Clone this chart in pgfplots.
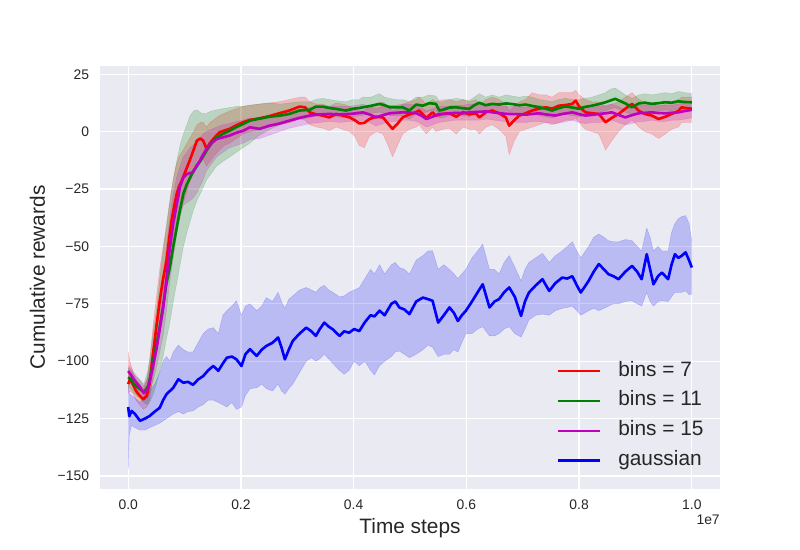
\documentclass[border=0pt]{standalone}
\usepackage{pgfplots}
\pgfplotsset{compat=1.18}
\usepackage{pgfplotstable}
\usepgfplotslibrary{fillbetween}
\usepackage{fontspec}
\setmainfont{Liberation Sans}
\definecolor{bg}{HTML}{EAEAF2}
\definecolor{txt}{HTML}{262626}
\definecolor{mpurple}{rgb}{0.75,0,0.75}
\definecolor{mgreen}{rgb}{0,0.5,0}

\pgfplotstableread{
x m lo hi
0.000 -110 -114 -96
0.003 -108 -113 -100
0.008 -110 -114 -104
0.014 -113 -117 -108
0.020 -115 -119 -110
0.027 -116.6 -121 -112
0.033 -115 -120 -108
0.038 -110 -117 -100
0.044 -97 -107 -85
0.050 -85 -97 -72
0.056 -73.7 -86 -60
0.062 -64 -77 -50
0.068 -56.3 -69 -42
0.073 -46 -60 -32
0.077 -38.8 -52 -25
0.082 -32 -46 -18
0.086 -27.2 -41 -14
0.090 -24 -37 -11
0.095 -21.4 -33 -9
0.102 -17 -28 -6
0.109 -12.7 -22 -3
0.116 -8 -17 0
0.122 -3.9 -12 3
0.128 -3 -11 4
0.133 -3.9 -12 4
0.139 -7.4 -15 2
0.145 -5 -13 4
0.151 -3.2 -11 5
0.162 -0.3 -8 7
0.171 0.5 -6 8
0.180 1.2 -5 9
0.192 2.8 -3 10
0.204 4.1 -1 11
0.216 5.1 0 11.5
0.233 5.8 1 12
0.251 6.8 2 12.5
0.268 8 3 13
0.286 9.2 4 14
0.304 10.9 5.5 15
0.314 10.6 5 15
0.322 8.4 3 13
0.334 7.5 2 12
0.345 7.0 1.5 12
0.357 6.2 0.5 11
0.369 7.7 2 12.5
0.381 7 1 12
0.393 6.2 0 11
0.402 5 -2 10
0.410 3.6 -6 9
0.419 3.8 -7 9
0.428 5.5 -2 11
0.440 6.5 0 12
0.452 6.2 -1 13
0.461 3.5 -6 11
0.469 1.2 -11 9
0.478 3.5 -6 10
0.487 6.2 -1 12
0.499 7.5 1 13
0.511 8.5 2 14
0.516 9.2 3 15
0.529 6 -1 12
0.540 8.4 2 14
0.546 7.0 0 13
0.558 7.7 1 14
0.570 8.0 1.5 14
0.582 6.5 -1 13
0.594 8.5 2 14
0.605 7.5 1 13
0.617 8 1 14
0.623 6.2 -1 12
0.635 8.5 2 14
0.646 9.2 3 15
0.658 8 1 14
0.670 6.2 -2 12
0.676 2.6 -10 9
0.685 5 -4 11
0.694 7.0 0 13
0.705 8 1 14
0.717 9.2 2 17
0.729 10 3 16
0.741 10.6 4 16
0.752 10 3 15
0.764 11.3 4 17
0.776 11.6 5 17
0.788 12.1 5 17
0.794 13.5 6 18
0.800 11 4 16
0.811 8.4 1 14
0.823 8 0 13
0.835 7.7 -1 13
0.847 4.1 -8 11
0.858 6 -4 12
0.870 7.7 0 13
0.882 10 3 15
0.894 12.1 5 17
0.906 9 2 14
0.917 7.7 0 13
0.929 7 -1 12
0.941 5.5 -3 11
0.953 6.5 -1 12
0.964 7.7 1 13
0.976 9 2 14
0.982 10.6 4 15
0.991 10.2 4 15
1.000 10.0 4 15
}\tabR

\pgfplotstableread{
x m lo hi
0.000 -107 -111 -103
0.005 -108 -112 -104
0.010 -110 -114 -106
0.020 -112 -116 -108
0.028 -113.5 -118 -110
0.035 -111 -119 -104
0.040 -106 -117 -96
0.045 -99 -114 -86
0.050 -93 -110 -78
0.056 -85 -104 -64
0.062 -76 -98 -52
0.068 -66 -90 -40
0.074 -59 -83 -30
0.080 -50 -74 -21
0.086 -42 -66 -13
0.092 -34 -58 -6
0.098 -27 -50 -1
0.104 -23 -44 3
0.110 -20 -39 7
0.116 -17 -34 9
0.122 -15 -30 9.5
0.130 -12 -26 8
0.139 -8.3 -21 8
0.148 -5 -18 9
0.157 -2.5 -15 9.5
0.168 -1 -13 10
0.180 0.4 -11 10.5
0.192 2 -9 11
0.204 3.3 -7 11
0.216 4.8 -5 11.5
0.230 5.5 -2 12
0.251 6.5 1 12.5
0.270 7 3 12
0.286 7.7 4 12.5
0.304 9.2 5.5 13
0.322 9.5 6 13
0.333 10.9 7 14
0.345 10.9 7.5 14.5
0.357 10.3 7 14
0.369 9.9 6.5 13.5
0.386 9.2 6 13
0.400 10 6.5 14
0.410 10.3 7 14
0.416 10.6 7 15
0.430 11.2 8 15
0.446 12.1 8.5 16.5
0.455 11.5 8 15
0.464 10.6 7 14.5
0.475 10.6 7 14
0.487 10.6 7 14
0.499 9.2 5.5 13
0.511 11.8 8 15
0.523 11.3 8 15
0.534 12.4 9 16
0.546 12.1 9 15.5
0.552 9.2 6 13
0.558 9.5 6 13
0.570 10.5 7 14
0.582 10.6 7.5 14.5
0.594 10.2 7 14
0.605 9.9 6.5 13.5
0.614 11.5 8 15
0.623 12.6 9 16.5
0.634 11.5 8 15
0.646 12.1 8.5 16
0.658 11.8 8 15
0.670 12.3 9 16
0.682 12 8.5 15.5
0.694 11.5 8 15
0.705 11.8 8.5 15.5
0.717 11.2 8 15
0.729 10.6 7 14
0.741 10 6.5 13.5
0.752 9.2 6 13
0.764 10.2 7 14
0.776 11 7.5 14.5
0.788 10.5 7 14
0.800 10 6.5 14
0.811 10.8 7 14.5
0.823 11.3 8 15
0.835 12 8.5 16
0.847 12.8 9 17
0.856 13.6 10 18.5
0.864 14.3 10.5 19
0.873 13.3 9.5 17.5
0.882 12.3 8.5 16
0.894 10.6 7 14.5
0.906 12.3 8.5 16
0.917 12.6 9 16.5
0.929 12.1 8.5 16
0.941 12.4 9 16.5
0.953 12.8 9.5 17
0.964 12.6 9 16.5
0.976 13.2 10 17.5
0.988 12.9 9.5 17
1.000 12.8 9.5 16.5
}\tabG

\pgfplotstableread{
x m lo hi
0.000 -104.3 -107 -102
0.005 -106 -109 -103
0.010 -108 -111 -105
0.020 -111 -114 -108
0.028 -114 -117 -111
0.035 -112 -116 -107
0.040 -107 -112 -100
0.045 -101 -108 -93
0.050 -95 -103 -85
0.056 -86 -96 -74
0.062 -77 -89 -63
0.068 -64 -78 -50
0.074 -50.5 -65 -37
0.080 -40 -55 -27
0.086 -32 -45 -20
0.092 -24 -37 -15
0.098 -20 -32 -11
0.104 -18.5 -31 -9
0.110 -18 -30 -7
0.115 -17.8 -29 -6
0.121 -15 -27 -4
0.127 -12.7 -24 -3
0.133 -10 -21 -1
0.139 -7.5 -17 0
0.148 -5 -14 1
0.157 -3.2 -11 2
0.168 -2.5 -9 3
0.180 -1.7 -7 3.5
0.192 -0.5 -6 4.5
0.204 0.4 -5 5
0.216 1.9 -3.5 6
0.233 1.2 -3 5.5
0.251 2.6 -1.5 6.5
0.268 3.5 0 7.5
0.286 4.8 1.5 8.5
0.304 6 2.5 9.5
0.322 7 3.5 10.5
0.340 7.5 4 11
0.357 7.7 4.5 11
0.375 7.5 4 11
0.393 7.7 4.5 11
0.405 8 4.5 11.5
0.416 8.4 5 12
0.428 7.5 4 11
0.440 6.2 2.5 10
0.452 7.2 3.5 11
0.464 8.0 4.5 11.5
0.475 8.2 4.5 11.5
0.487 8.4 5 12
0.499 8.3 5 12
0.511 8.0 4.5 11.5
0.520 7 3.5 10.5
0.529 5.5 2 9
0.540 6.5 3 10
0.552 7.7 4 11
0.565 7.8 4.5 11
0.580 8.2 5 11.5
0.594 8.0 5 11.5
0.605 8.4 5 12
0.620 8.6 5 12
0.635 8.8 5.5 12
0.650 8.3 5 11.5
0.664 7.9 4.5 11
0.676 7.7 4.5 11
0.690 7.6 4 11
0.705 7.4 4 10.5
0.717 7.7 4.5 11
0.729 8.0 4.5 11.5
0.741 7.5 4 11
0.758 7.0 3.5 10.5
0.770 7.7 4 11
0.788 8.4 5 12
0.800 7.6 4 11
0.811 7.0 3.5 10.5
0.823 7.3 4 10.5
0.835 7.7 4 11
0.847 8.0 4.5 11.5
0.858 8.4 5 12
0.870 7.3 4 11
0.882 6.2 3 9.5
0.894 7.2 3.5 10.5
0.906 8.0 4.5 11.5
0.917 8.2 4.5 11.5
0.929 8.4 5 12
0.941 8.1 4.5 11.5
0.953 8.0 4.5 11.5
0.964 8.2 5 11.5
0.976 8.4 5 12
0.988 9.0 5.5 12.5
1.000 9.5 6 13
}\tabM

\pgfplotstableread{
x m lo hi
0.000 -120 -147 -110
0.002 -124 -132 -114
0.006 -121.7 -128 -115
0.012 -123 -129 -116
0.021 -126 -130 -118
0.030 -125 -130 -115
0.038 -123.9 -129 -113
0.047 -122 -128 -110
0.056 -120.3 -127 -105
0.062 -117 -126 -100
0.068 -114.4 -125 -98
0.074 -113 -124 -100
0.080 -111.6 -123 -96
0.089 -107.9 -122 -93
0.098 -109.4 -123 -95
0.106 -109 -122 -96
0.115 -110.3 -121.7 -96
0.124 -108 -120 -92
0.133 -106.5 -119 -88
0.142 -104 -117 -86
0.151 -102.1 -117 -85.4
0.160 -104.2 -118 -88
0.168 -101 -119 -80
0.175 -98.5 -120 -78
0.184 -98 -118 -76
0.192 -99.2 -121 -73.7
0.201 -102.1 -120 -80
0.208 -97 -115 -76
0.216 -94.8 -112 -75
0.228 -97.7 -111.6 -78
0.237 -95 -110 -76
0.245 -93.4 -112 -72.3
0.256 -92 -113 -74
0.266 -89.7 -110 -70
0.272 -94 -113 -74
0.278 -99.2 -114.4 -77
0.285 -95 -112 -73
0.292 -91.2 -110 -71.6
0.304 -88 -105 -69
0.316 -85.4 -100 -67.9
0.325 -87 -98.5 -69
0.333 -89.0 -100 -70
0.340 -86 -99 -68
0.348 -83.2 -97 -67
0.356 -85 -99 -69
0.363 -86.1 -101 -70
0.375 -89.0 -104 -72
0.383 -87 -105.7 -71.6
0.392 -87.6 -104 -70
0.401 -86 -100 -69
0.410 -86.9 -102 -68
0.420 -83 -100 -64
0.430 -80 -104 -60
0.437 -80.5 -106 -62
0.446 -78 -102 -58
0.455 -80 -100 -62
0.467 -75 -98 -58
0.474 -74 -96 -57
0.481 -76.6 -95.6 -59.2
0.490 -77.5 -97 -60
0.499 -79.5 -98.5 -62
0.511 -74 -97 -56
0.523 -72.3 -95 -54
0.532 -73 -93 -52
0.540 -73.7 -94 -51.9
0.550 -83.2 -98 -60
0.560 -80 -97 -58
0.570 -76.6 -97 -60
0.578 -79 -95 -62
0.585 -82.5 -96 -64
0.592 -80 -92 -62
0.599 -78.1 -88 -60
0.610 -74 -88 -55
0.620 -70 -86 -52
0.629 -66.5 -85 -49
0.641 -76.6 -89 -60
0.650 -74 -89 -60
0.658 -73.0 -88 -62
0.667 -70 -86 -57
0.676 -67.9 -85 -54
0.686 -72 -88 -59
0.697 -80.3 -89.5 -65
0.704 -74 -86 -60
0.711 -70.1 -82 -57
0.723 -67 -80 -55
0.735 -64.3 -79.5 -53
0.747 -69.4 -80 -57
0.758 -66 -78 -54
0.770 -63.6 -77 -52
0.779 -64 -76.6 -50
0.788 -63.0 -76 -48
0.796 -67 -78 -52
0.803 -70.1 -80 -55
0.817 -65.0 -78 -50
0.826 -61 -77 -46
0.835 -57.7 -78 -44.6
0.844 -60 -77 -46
0.852 -62.1 -76 -47.5
0.861 -63 -75 -48
0.870 -64.3 -75 -48
0.882 -61 -74 -47
0.894 -58.5 -73.7 -47.5
0.903 -61 -75 -50
0.911 -64.3 -76 -52
0.920 -53.4 -70 -42
0.926 -60 -74 -46
0.932 -66.5 -76 -52
0.940 -63 -74 -50
0.947 -61.4 -73.7 -52
0.958 -64.3 -74 -52
0.964 -58 -72 -44
0.970 -53.4 -70 -40
0.976 -55 -70 -38
0.982 -54.1 -70 -37
0.989 -52.6 -69.4 -36.6
0.995 -56 -71 -40
1.000 -59.2 -70.8 -47.5
}\tabB

\begin{document}
\begin{tikzpicture}
\begin{axis}[
  name=ax,
  at={(0,0)}, anchor=south west,
  scale only axis, width=446.4pt, height=304.56pt,
  xmin=-0.05, xmax=1.05, ymin=-155.7, ymax=28.6,
  axis background/.style={fill=bg},
  axis line style={draw=none},
  major tick length=0pt,
  grid=major,
  grid style={white, line width=0.9pt},
  xtick={0,0.2,0.4,0.6,0.8,1},
  xticklabels={0.0,0.2,0.4,0.6,0.8,1.0},
  ytick={-150,-125,-100,-75,-50,-25,0,25},
  yticklabels={−150,−125,−100,−75,−50,−25,0,25},
  tick label style={font=\fontsize{10}{12}\selectfont, text=txt},
  xticklabel style={inner sep=0pt, anchor=north, yshift=-7.4pt},
  yticklabel style={inner sep=0pt, anchor=east, xshift=-7.7pt},
  xlabel={Time steps},
  ylabel={Cumulative rewards},
  every axis x label/.style={at={(rel axis cs:0.5,0)}, anchor=base, yshift=-31.9pt, inner sep=0pt, font=\fontsize{15}{18}\selectfont, text=txt},
  every axis y label/.style={at={(rel axis cs:0,0.5)}, xshift=-39.6pt, rotate=90, anchor=base, inner sep=0pt, font=\fontsize{15}{18}\selectfont, text=txt},
  legend style={draw=none, fill=none, at={(rel axis cs:0.737,0.3035)}, anchor=north west, inner sep=0pt,
    font=\fontsize{15}{18}\selectfont, text=txt,
    nodes={inner sep=0pt, text height=11pt, text depth=4pt},
    row sep=6.4pt, column sep=12.5pt},
  legend cell align=left,
  legend image code/.code={\draw[#1, line width=1.5pt] (0pt,0pt) -- (30pt,0pt);},
]
% bands
\addplot[name path=Rhi, draw=red, draw opacity=0.2, line width=0.3pt, forget plot] table[x=x,y=hi]{\tabR};
\addplot[name path=Rlo, draw=red, draw opacity=0.2, line width=0.3pt, forget plot] table[x=x,y=lo]{\tabR};
\addplot[fill=red, fill opacity=0.2, draw=none, forget plot] fill between[of=Rhi and Rlo];
\addplot[name path=Ghi, draw=mgreen, draw opacity=0.2, line width=0.3pt, forget plot] table[x=x,y=hi]{\tabG};
\addplot[name path=Glo, draw=mgreen, draw opacity=0.2, line width=0.3pt, forget plot] table[x=x,y=lo]{\tabG};
\addplot[fill=mgreen, fill opacity=0.2, draw=none, forget plot] fill between[of=Ghi and Glo];
\addplot[name path=Mhi, draw=mpurple, draw opacity=0.2, line width=0.3pt, forget plot] table[x=x,y=hi]{\tabM};
\addplot[name path=Mlo, draw=mpurple, draw opacity=0.2, line width=0.3pt, forget plot] table[x=x,y=lo]{\tabM};
\addplot[fill=mpurple, fill opacity=0.2, draw=none, forget plot] fill between[of=Mhi and Mlo];
\addplot[name path=Bhi, draw=blue, draw opacity=0.2, line width=0.3pt, forget plot] table[x=x,y=hi]{\tabB};
\addplot[name path=Blo, draw=blue, draw opacity=0.2, line width=0.3pt, forget plot] table[x=x,y=lo]{\tabB};
\addplot[fill=blue, fill opacity=0.2, draw=none, forget plot] fill between[of=Bhi and Blo];
% means
\addplot[red, line width=1.9pt, line join=round] table[x=x,y=m]{\tabR};
\addlegendentry{bins = 7}
\addplot[mgreen, line width=1.9pt, line join=round] table[x=x,y=m]{\tabG};
\addlegendentry{bins = 11}
\addplot[mpurple, line width=1.9pt, line join=round] table[x=x,y=m]{\tabM};
\addlegendentry{bins = 15}
\addplot[blue, line width=1.9pt, line join=round] table[x=x,y=m]{\tabB};
\addlegendentry{gaussian}
\end{axis}
\node[anchor=base east, inner sep=0pt, font=\fontsize{10}{12}\selectfont, text=txt] at ([yshift=-25.9pt]ax.south east) {1e7};
\path (-72pt,-43.92pt) rectangle (504pt,352.08pt);
\end{tikzpicture}
\end{document}
